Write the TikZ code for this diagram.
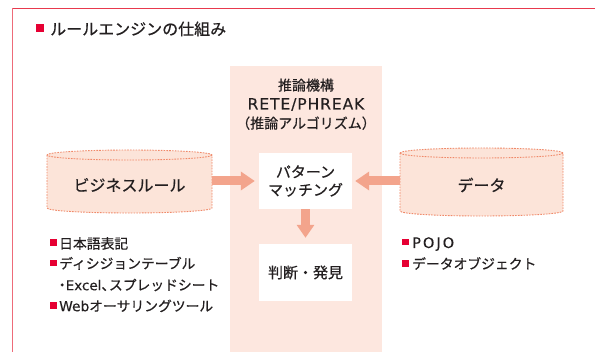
\documentclass[tikz,border=0pt]{standalone}
\usepackage{fontspec}
\setmainfont{Noto Sans CJK JP}[FakeBold=0.5]
\newfontfamily\latin{DejaVu Sans}[FakeBold=0.2]
\usetikzlibrary{arrows.meta}
\definecolor{framered}{HTML}{E8394D}
\definecolor{bulred}{HTML}{E60033}
\definecolor{panelc}{HTML}{FDE7DF}
\definecolor{cylfill}{HTML}{FCE4D9}
\definecolor{cyledge}{HTML}{F08868}
\definecolor{arrowc}{HTML}{F3A48C}
\definecolor{textc}{HTML}{231F20}
\begin{document}
\begin{tikzpicture}[x=1pt,y=1pt,yscale=-1,
  every node/.append style={text=textc},
  txt/.style={anchor=base west, inner sep=0pt, font=\fontsize{13.8}{16}\selectfont},
  ctr/.style={anchor=base, inner sep=0pt, font=\fontsize{14}{18}\selectfont},
  bul/.style={fill=bulred},
  whitebox/.style={fill=white, minimum width=93pt, inner sep=0pt, align=center, font=\fontsize{15}{18}\selectfont},
  cylbody/.style={fill=cylfill, draw=cyledge, line width=0.9pt, dash pattern=on 1.6pt off 1.2pt},
  cyllabel/.style={minimum height=56pt, inner sep=0pt, font=\fontsize{16}{18}\selectfont},
  flow/.style={draw=arrowc, line width=9pt, -{Triangle[width=18pt,length=14pt,fill=arrowc]}}
]
\useasboundingbox (0,0) rectangle (595,352);
\fill[white] (0,0) rectangle (595,352);
% frame
\draw[framered, line width=1.4pt] (12.5,8.6) -- (595,8.6);
\draw[framered!75, line width=1.2pt] (12.5,8) -- (12.5,352);
% title
\fill[bul] (36,24.5) rectangle (43.5,32);
\node[anchor=base west, inner sep=0pt, font=\fontsize{16}{18}\selectfont] (title) at (50,35) {ルールエンジンの仕組み};
% engine panel
\node[fill=panelc, minimum width=152pt, minimum height=286pt, anchor=north west, inner sep=0pt] (engine) at (230,66) {};
\node[ctr] (t1) at (306,90.5) {推論機構};
\node[ctr] (t2) at (306,109.5) {\latin\fontsize{15.5}{18}\selectfont\addfontfeature{LetterSpace=6}RETE/PHREAK};
\node[ctr] (t3) at (306,128.5) {（推論アルゴリズム）};
\node[whitebox, minimum height=56pt] (pm) at (305.5,181) {パターン\\マッチング};
\node[whitebox, minimum height=57pt] (jd) at (305.5,272.5) {判断・発見};
% cylinders
\path[cylbody] (47,155) -- (47,208) arc[start angle=180, end angle=0, x radius=82.5, y radius=5]
  -- (212,155) arc[start angle=0, end angle=-180, x radius=82.5, y radius=5] -- cycle;
\draw[cylbody, fill=none] (212,155) arc[start angle=0, end angle=180, x radius=82.5, y radius=5];
\node[cyllabel, minimum width=165pt] (biz) at (129.5,185) {ビジネスルール};
\path[cylbody] (400,153) -- (400,211) arc[start angle=180, end angle=0, x radius=81.5, y radius=5]
  -- (563,153) arc[start angle=0, end angle=-180, x radius=81.5, y radius=5] -- cycle;
\draw[cylbody, fill=none] (563,153) arc[start angle=0, end angle=180, x radius=81.5, y radius=5];
\node[cyllabel, minimum width=163pt] (data) at (481.5,185) {データ};
% arrows
\draw[flow, shorten >=4pt] (biz.east |- pm.west) -- (pm.west);
\draw[flow, shorten >=3pt] (data.west |- pm.east) -- (pm.east);
\draw[flow, -{Triangle[width=17pt,length=13pt,fill=arrowc]}, shorten >=6pt] (pm.south) -- (jd.north);
% left list
\fill[bul] (50,239.3) rectangle (56.5,245.8);
\node[txt] (l1) at (59,248.7) {日本語表記};
\fill[bul] (50,259.8) rectangle (56.5,266.3);
\node[txt] (l2) at (59,268.7) {ディシジョンテーブル};
\node[txt] (l3) at (58.5,290.2) {\makebox[7pt][c]{・}{\latin\fontsize{13.5}{16}\selectfont Excel}\makebox[7.5pt][l]{、}スプレッドシート};
\fill[bul] (50,302.3) rectangle (56.5,308.8);
\node[txt] (l4) at (59,311.2) {{\latin Web}オーサリングツール};
% right list
\fill[bul] (402,239) rectangle (408.5,245.5);
\node[txt] (r1) at (412,248) {\latin\fontsize{14.5}{16}\selectfont\addfontfeature{LetterSpace=14}POJO};
\fill[bul] (402,260.3) rectangle (408.5,266.8);
\node[txt] (r2) at (412,269) {データオブジェクト};
\end{tikzpicture}
\end{document}
